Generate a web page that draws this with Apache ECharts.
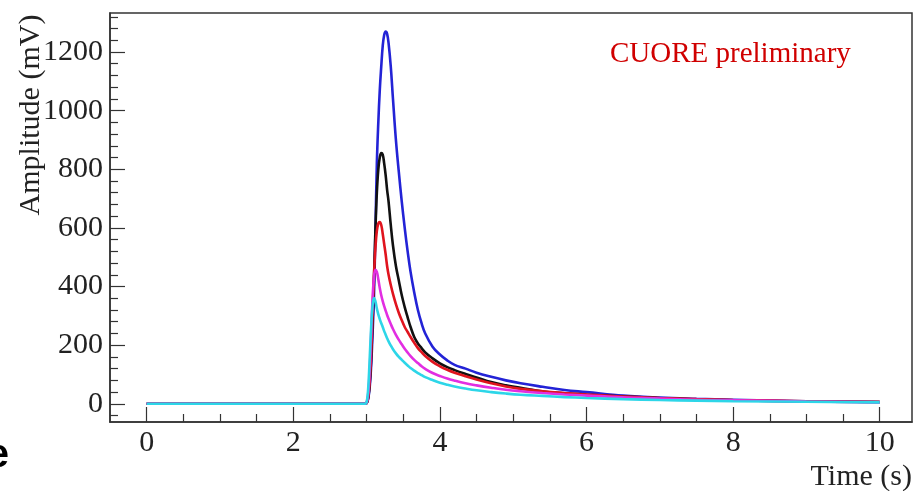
<!DOCTYPE html>
<html>
<head>
<meta charset="utf-8">
<script src="https://cdn.jsdelivr.net/npm/echarts@6/dist/echarts.min.js"></script>
<style>html,body{margin:0;padding:0;background:#fff}#c{width:916px;height:491px}</style>
</head>
<body>
<div id="c"></div>
<script>
// Time grid (s)
const times = [0, 2.98, 3.0, 3.02, 3.04, 3.06, 3.08, 3.1, 3.12, 3.14, 3.16, 3.18, 3.2, 3.22, 3.24, 3.26, 3.28, 3.3, 3.33, 3.36, 3.4, 3.44, 3.48, 3.52, 3.56, 3.6, 3.65, 3.7, 3.75, 3.8, 3.9, 4.0, 4.1, 4.2, 4.35, 4.5, 4.7, 4.9, 5.1, 5.4, 5.7, 6.0, 6.5, 7.0, 7.5, 8.0, 9.0, 10.0];
// Amplitudes (mV)
const blueAmp = [0, 0, 2, 15, 50, 120, 230, 360, 580, 820, 960, 1070, 1150, 1220, 1258, 1270, 1262, 1230, 1150, 1040, 900, 790, 690, 600, 520, 450, 380, 320, 275, 240, 195, 168, 148, 133, 120, 106, 92, 80, 70, 58, 47, 40, 28, 21, 17, 14, 9, 6];
const blackAmp = [0, 0, 2, 18, 60, 140, 270, 420, 590, 720, 800, 840, 855, 850, 820, 780, 730, 690, 610, 540, 470, 420, 370, 330, 295, 262, 228, 206, 190, 175, 155, 138, 125, 115, 102, 90, 74, 63, 55, 42, 36, 31, 25, 19, 15, 12, 8, 6];
const redAmp = [0, 0, 2, 20, 70, 160, 300, 430, 530, 590, 615, 620, 610, 580, 545, 510, 470, 440, 405, 375, 340, 310, 285, 262, 245, 228, 208, 190, 176, 163, 143, 128, 116, 106, 94, 83, 70, 59, 51, 43, 37, 32, 25, 20, 16, 13, 9, 6];
const magentaAmp = [0, 0, 3, 30, 100, 220, 350, 430, 457, 450, 425, 395, 370, 350, 333, 318, 303, 290, 272, 255, 235, 218, 203, 188, 175, 163, 150, 139, 128, 119, 105, 95, 86, 79, 70, 63, 55, 48, 43, 37, 32, 28, 22, 18, 14, 12, 8, 5];
const cyanAmp = [0, 0, 5, 45, 140, 250, 330, 361, 350, 325, 305, 289, 275, 262, 248, 236, 224, 213, 199, 186, 172, 160, 150, 140, 131, 122, 113, 105, 98, 91, 81, 72, 65, 59, 52, 46, 40, 35, 31, 27, 23, 20, 16, 13, 11, 9, 7, 5];

const xLabelTicks = [0, 2, 4, 6, 8, 10];
const xMinorTicks = [0.5, 1, 1.5, 2.5, 3, 3.5, 4.5, 5, 5.5, 6.5, 7, 7.5, 8.5, 9, 9.5];
const yLabelTicks = [0, 200, 400, 600, 800, 1000, 1200];
const yMinorTicks = [-40, 40, 80, 120, 160, 240, 280, 320, 360, 440, 480, 520, 560, 640, 680, 720, 760, 840, 880, 920, 960, 1040, 1080, 1120, 1160, 1240, 1280, 1320];

const seriesDefs = [
  {name: 'blue', data: blueAmp, color: '#2323d6'},
  {name: 'black', data: blackAmp, color: '#111111'},
  {name: 'red', data: redAmp, color: '#e0141e'},
  {name: 'magenta', data: magentaAmp, color: '#e22ee2'},
  {name: 'cyan', data: cyanAmp, color: '#2dd6e8'}
];

const serif = '"Liberation Serif", "DejaVu Serif", serif';
const XMIN = -0.5, XMAX = 10.44, YMIN = -62, YMAX = 1333;

const chart = echarts.init(document.getElementById('c'), null, {renderer: 'canvas'});
chart.setOption({
  animation: false,
  backgroundColor: '#ffffff',
  grid: {left: 110, top: 13, right: 4, bottom: 69, show: true, borderColor: '#333', borderWidth: 1.5, backgroundColor: 'transparent'},
  xAxis: [
    {type: 'value', min: XMIN, max: XMAX, position: 'bottom',
     axisLine: {show: true, onZero: false, lineStyle: {color: '#333', width: 1.5}},
     axisTick: {show: true, inside: true, length: 15, lineStyle: {color: '#333', width: 1.2}, customValues: xLabelTicks},
     axisLabel: {show: true, customValues: xLabelTicks, margin: 6, fontFamily: serif, fontSize: 30, color: '#222', formatter: v => String(v)},
     splitLine: {show: false}},
    {type: 'value', min: XMIN, max: XMAX, position: 'bottom',
     axisLine: {show: false, onZero: false},
     axisTick: {show: true, inside: true, length: 8, lineStyle: {color: '#333', width: 1.2}, customValues: xMinorTicks},
     axisLabel: {show: false}, splitLine: {show: false}}
  ],
  yAxis: [
    {type: 'value', min: YMIN, max: YMAX, position: 'left',
     axisLine: {show: true, onZero: false, lineStyle: {color: '#333', width: 1.5}},
     axisTick: {show: true, inside: true, length: 15, lineStyle: {color: '#333', width: 1.2}, customValues: yLabelTicks},
     axisLabel: {show: true, customValues: yLabelTicks, margin: 7, fontFamily: serif, fontSize: 30, color: '#222', formatter: v => String(v)},
     splitLine: {show: false}},
    {type: 'value', min: YMIN, max: YMAX, position: 'left',
     axisLine: {show: false, onZero: false},
     axisTick: {show: true, inside: true, length: 8, lineStyle: {color: '#333', width: 1.2}, customValues: yMinorTicks},
     axisLabel: {show: false}, splitLine: {show: false}}
  ],
  series: seriesDefs.map(s => ({
    name: s.name, type: 'line', xAxisIndex: 0, yAxisIndex: 0,
    data: times.map((t, i) => [t, s.data[i]]),
    showSymbol: false, smooth: 0.4,
    lineStyle: {color: s.color, width: 2.6},
    itemStyle: {color: s.color}
  })),
  graphic: [
    {type: 'text', left: 610, top: 40, style: {text: 'CUORE preliminary', font: '29px ' + serif, fill: '#d00000'}},
    {type: 'text', x: 912, y: 477, style: {text: 'Time (s)', font: '30px ' + serif, fill: '#222', align: 'right', verticalAlign: 'middle'}},
    {type: 'text', x: 31, y: 115, rotation: Math.PI / 2, style: {text: 'Amplitude (mV)', font: '30px ' + serif, fill: '#222', align: 'center', verticalAlign: 'middle'}},
    {type: 'text', x: 9, y: 456, style: {text: 'e', font: 'bold 40px "Liberation Sans", Arial, sans-serif', fill: '#000', align: 'right', verticalAlign: 'middle'}}
  ]
});
</script>
</body>
</html>
